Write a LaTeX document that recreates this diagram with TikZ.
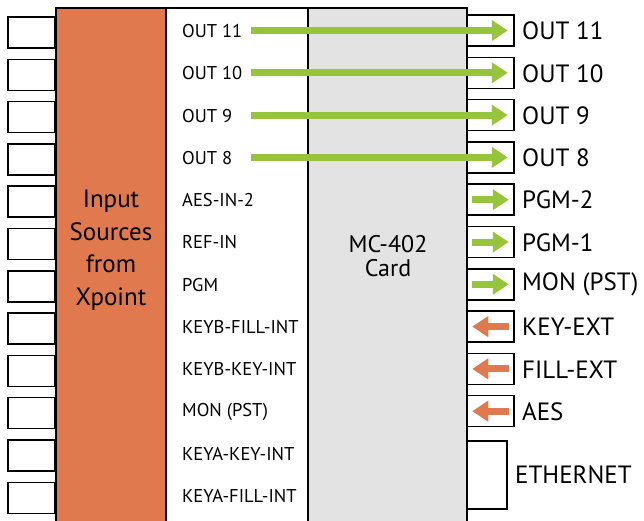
\documentclass[tikz,border=0pt]{standalone}
\usepackage{fontspec}
\setmainfont{PT Sans}
\usepackage{tikz}
\usetikzlibrary{positioning, arrows}
\usetikzlibrary{arrows.meta}

\definecolor{xorange}{RGB}{224,122,78}
\definecolor{xgreen}{RGB}{150,196,60}
\definecolor{cardgrey}{RGB}{227,227,227}

\begin{document}
\begin{tikzpicture}[x=1pt, y=-1pt, >=stealth,
    port/.style={draw, line width=1.5pt, fill=white, minimum width=47pt, minimum height=31pt, inner sep=0pt},
    block/.style={draw, line width=1.6pt},
    midlbl/.style={anchor=west, inner sep=0pt, font=\fontsize{18.5}{20}\selectfont},
    outlbl/.style={anchor=west, inner sep=0pt, font=\fontsize{25}{27}\selectfont},
    sig/.style={line width=7pt, -{Triangle[length=16pt, width=20pt]}}]
    \useasboundingbox (0,0) rectangle (644,520);

    % Define nodes
    \foreach \i in {1,...,12} {
        \node[port] (in\i) at (31.5, {32.5 + 42.3*(\i-1)}) {};
    }
    \draw[block, fill=xorange] (56,8) rectangle (166,530);
    \draw[block, fill=white] (166,8) rectangle (308,530);
    \foreach \i in {1,...,10} {
        \node[port] (r\i) at (490.5, {30.5 + 42.3*(\i-1)}) {};
    }
    \node[port, minimum width=40pt, minimum height=68pt] (eth) at (487,475) {};
    \draw[block, fill=cardgrey] (308,8) rectangle (467,530);

    \node[align=center, font=\fontsize{25}{32.5}\selectfont] (xpoint) at (111,250) {Input\\Sources\\from\\Xpoint};
    \node[align=center, font=\fontsize{24}{24}\selectfont] (card) at (388,256) {MC-402\\Card};

    \foreach \txt [count=\i] in {OUT 11, OUT 10, OUT 9, OUT 8, AES-IN-2, REF-IN, PGM, KEYB-FILL-INT, KEYB-KEY-INT, {MON (PST)}, KEYA-KEY-INT, KEYA-FILL-INT} {
        \node[midlbl] (m\i) at (182, {31 + 42.3*(\i-1)}) {\txt};
    }
    \foreach \txt [count=\i] in {OUT 11, OUT 10, OUT 9, OUT 8, PGM-2, PGM-1, {MON (PST)}, KEY-EXT, FILL-EXT, AES} {
        \node[outlbl] (o\i) at (522, {31 + 42.3*(\i-1)}) {\txt};
    }
    \node[outlbl] (oeth) at (515,475) {ETHERNET};

    % Draw signals
    \foreach \i in {1,...,4} {
        \coordinate (s\i) at (251, {30.5 + 42.3*(\i-1)});
        \draw[sig, xgreen, shorten >=7pt] (s\i) -- (r\i.east);
    }
    \foreach \i in {5,6,7} {
        \draw[sig, xgreen, shorten <=6pt, shorten >=6pt] (r\i.west) -- (r\i.east);
    }
    \foreach \i in {8,9,10} {
        \draw[sig, xorange, shorten <=6pt, shorten >=6pt] (r\i.east) -- (r\i.west);
    }
\end{tikzpicture}
\end{document}
